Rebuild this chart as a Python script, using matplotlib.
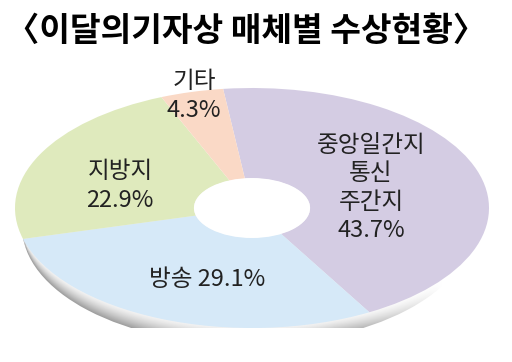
import matplotlib
matplotlib.use("Agg")
import matplotlib.pyplot as plt
from matplotlib.patches import Ellipse
import numpy as np

plt.rcParams['font.family'] = ['Noto Sans CJK KR', 'DejaVu Sans']

title = "〈이달의기자상 매체별 수상현황〉"
categories = ["중앙일간지\n통신\n주간지", "방송", "지방지", "기타"]
values = [43.7, 29.1, 22.9, 4.3]
colors = ["#D4CCE3", "#D6E9F8", "#DFEABD", "#FAD9C6"]

W, H = 512, 362
fig = plt.figure(figsize=(W / 100, H / 100), dpi=100)

cx, cy, a, b = 252, 208, 237, 120
ax = fig.add_axes([(cx - a) / W, (H - cy - b) / H, 2 * a / W, 2 * b / H])

# shadow (gradient image clipped to an offset ellipse under the disc)
sdx, sdy, srx, sry = -0.02, -0.16, 0.95, 0.98
xs = np.linspace(-1.05, 1.05, 400)
ys = np.linspace(-1.25, 0.2, 300)
X, Y = np.meshgrid(xs, ys)
disc_bottom = -np.sqrt(np.clip(1 - X ** 2, 0, None))
shadow_bottom = sdy - sry * np.sqrt(np.clip(1 - ((X - sdx) / srx) ** 2, 0, None))
span = np.clip(disc_bottom - shadow_bottom, 1e-3, None)
depth = np.clip((disc_bottom - Y) / span, 0, 1)
grey = 0.95 - 0.33 * depth ** 1.3
fade = np.clip((X - 0.35) / 0.45, 0, 1)
grey = grey * (1 - fade) + 1.0 * fade
img = np.dstack([grey, grey, grey])
im = ax.imshow(img, extent=(xs[0], xs[-1], ys[0], ys[-1]), origin='lower',
               zorder=0, interpolation='bilinear')
clip = Ellipse((sdx, sdy), 2 * srx, 2 * sry, transform=ax.transData)
im.set_clip_path(clip)

wedges, _ = ax.pie(values, colors=colors, startangle=97, counterclock=False,
                   radius=1.0, wedgeprops=dict(width=0.755, edgecolor='none'))
for w in wedges:
    w.set_zorder(2)
ax.add_patch(Ellipse((0, 0), 2 * 0.245, 2 * 0.25, facecolor='white',
                     edgecolor='none', zorder=3))
ax.set_aspect('auto')
ax.set_xlim(-1, 1)
ax.set_ylim(-1, 1)
ax.axis('off')

def px(x, y):
    return ((x - cx) / a, (cy - y) / b)

lab_kw = dict(ha='center', va='center', fontsize=17, color='#222222', zorder=5,
              linespacing=1.3, fontweight='light')
# label positions (pixel-space centers)
labels = [
    (f"{categories[0]}\n{values[0]}%", 371, 188),
    (f"{categories[1]} {values[1]}%", 207, 280),
    (f"{categories[2]}\n{values[2]}%", 120, 186),
    (f"{categories[3]}\n{values[3]}%", 194, 96),
]
for s, x, y in labels:
    ax.text(*px(x, y), s, **lab_kw)

fig.text(246 / W, 1 - 31 / H, title, ha='center', va='center',
         fontsize=24, fontweight='bold', color='black')

fig.savefig("out.png", dpi=100, facecolor='white')
